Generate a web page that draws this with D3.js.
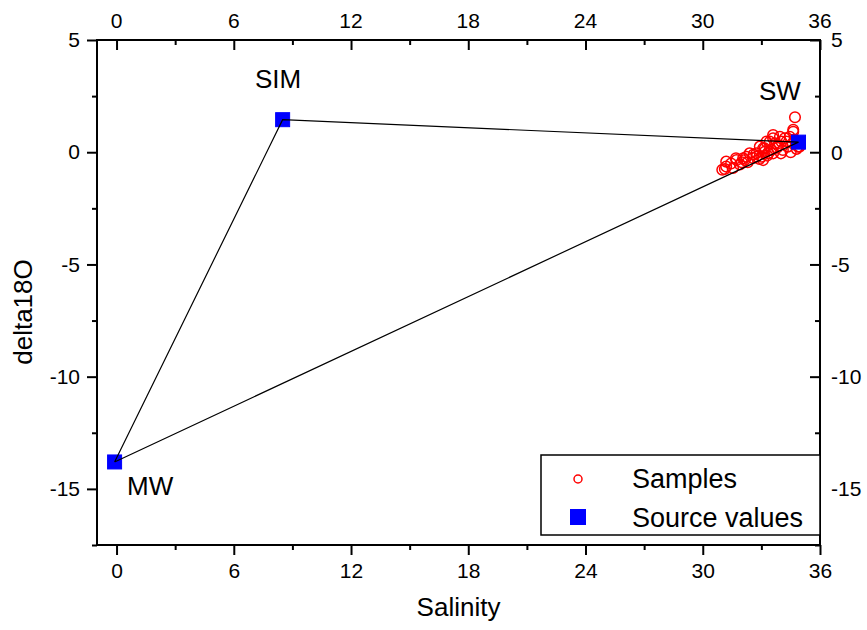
<!DOCTYPE html>
<html>
<head>
<meta charset="utf-8">
<title>delta18O vs Salinity</title>
<style>
  body { margin: 0; background: #fff; }
  svg text { font-family: "Liberation Sans", Arial, sans-serif; fill: #000; }
</style>
</head>
<body>
<svg width="867" height="630"></svg>
<script src="https://d3js.org/d3.v7.min.js"></script>
<script>

// end members (salinity, delta18O)
var sourceNames = ["MW", "SIM", "SW"];
var sourceSal   = [-0.1, 8.5, 34.9];
var sourceD18O  = [-13.8, 1.45, 0.45];

// samples
var sampleSal = [31.0, 31.13, 31.2, 31.2, 31.55, 31.7, 31.73, 31.9, 32.07, 32.15,
                 32.24, 32.3, 32.4, 32.57, 32.75, 32.75, 32.9, 32.92, 33.0, 33.09,
                 33.09, 33.17, 33.17, 33.26, 33.3, 33.43, 33.5, 33.52, 33.6, 33.6,
                 33.6, 33.7, 33.8, 33.95, 34.03, 34.1, 34.2, 34.28, 34.35, 34.45,
                 34.5, 34.6, 34.63, 34.63, 34.7, 34.72, 34.8, 34.88, 34.95, 33.35,
                 32.6, 34.0, 33.85, 31.45, 32.0];
var sampleD18O = [-0.78, -0.75, -0.42, -0.64, -0.7, -0.27, -0.35, -0.55, -0.27, -0.35,
                  -0.2, -0.45, -0.05, -0.26, -0.05, -0.2, -0.3, 0.25, -0.2, 0.17,
                  -0.35, 0.17, 0.02, 0.47, -0.15, 0.47, 0.1, 0.1, 0.77, 0.62,
                  -0.05, 0.4, 0.2, 0.69, 0.47, 0.1, 0.62, 0.47, 0.25, 0.69,
                  0.0, 0.4, 1.0, 0.91, 0.55, 1.56, 0.15, 0.25, 0.25, -0.05,
                  -0.1, -0.05, 0.3, -0.5, -0.45];

var xMajor = [0, 6, 12, 18, 24, 30, 36];
var xMinor = [3, 9, 15, 21, 27, 33];
var yMajor = [5, 0, -5, -10, -15];
var yMinor = [2.5, -2.5, -7.5, -12.5, -17.5];

var svg = d3.select("svg");
var L = 97, R = 820, T = 40, B = 545;

var x = d3.scaleLinear().domain([-1, 36]).range([L, R]);
var y = d3.scaleLinear().domain([-17.5, 5]).range([B, T]);

var fmt = function(d) { return String(d); };  // plain hyphen minus like the original

function ticks(axisFn, scale, vals, size, transform, labels, pad) {
  var g = svg.append("g").attr("transform", transform);
  g.call(axisFn(scale).tickValues(vals).tickSize(size).tickPadding(pad || 3)
      .tickFormat(labels ? fmt : ""))
    .call(function(s) { s.select(".domain").remove(); });
  g.selectAll(".tick line").attr("stroke", "#000").attr("stroke-width", 2);
  g.selectAll(".tick text").attr("font-size", 21).attr("fill", "#000")
    .attr("font-family", "Liberation Sans, Arial, sans-serif");
  return g;
}

// bottom / left: ticks outward with labels
ticks(d3.axisBottom, x, xMajor, 10, "translate(0," + B + ")", true, 8);
ticks(d3.axisBottom, x, xMinor, 5, "translate(0," + B + ")", false);
ticks(d3.axisLeft, y, yMajor, 10, "translate(" + L + ",0)", true, 7);
ticks(d3.axisLeft, y, yMinor, 5, "translate(" + L + ",0)", false);

// top / right: ticks inward
ticks(d3.axisBottom, x, xMajor, 10, "translate(0," + T + ")", false);
ticks(d3.axisBottom, x, xMinor, 5, "translate(0," + T + ")", false);
ticks(d3.axisLeft, y, yMajor, 10, "translate(" + R + ",0)", false);
ticks(d3.axisLeft, y, yMinor, 5, "translate(" + R + ",0)", false);

svg.append("g").selectAll("text").data(xMajor).enter().append("text")
  .attr("x", function(d) { return x(d); }).attr("y", T - 12)
  .attr("text-anchor", "middle").attr("font-size", 21)
  .text(fmt);
svg.append("g").selectAll("text").data(yMajor).enter().append("text")
  .attr("x", R + 11).attr("y", function(d) { return y(d); }).attr("dy", "0.35em")
  .attr("font-size", 21)
  .text(fmt);

// frame
svg.append("rect").attr("x", L).attr("y", T).attr("width", R - L).attr("height", B - T)
  .attr("fill", "none").attr("stroke", "#000").attr("stroke-width", 2);

var line = d3.line().x(function(d) { return x(d[0]); }).y(function(d) { return y(d[1]); });
var tri = [0, 1, 2, 0].map(function(i) { return [sourceSal[i], sourceD18O[i]]; });

// samples
svg.append("g").selectAll("circle").data(d3.range(sampleSal.length)).enter().append("circle")
  .attr("cx", function(i) { return x(sampleSal[i]); })
  .attr("cy", function(i) { return y(sampleD18O[i]); })
  .attr("r", 5.3).attr("fill", "none").attr("stroke", "#ff0000").attr("stroke-width", 1.5);

// sources
svg.append("g").selectAll("rect").data(d3.range(sourceSal.length)).enter().append("rect")
  .attr("x", function(i) { return x(sourceSal[i]) - 7; })
  .attr("y", function(i) { return y(sourceD18O[i]) - 7; })
  .attr("width", 14).attr("height", 14)
  .attr("fill", "#0000ff").attr("stroke", "#0000ff").attr("stroke-width", 1);

// mixing triangle over the markers
svg.append("path").attr("d", line(tri))
  .attr("fill", "none").attr("stroke", "#000").attr("stroke-width", 1.2);

// source labels
var labelPos = [[127, 495], [255, 88], [759, 100]];
svg.append("g").selectAll("text").data(sourceNames).enter().append("text")
  .attr("x", function(d, i) { return labelPos[i][0]; })
  .attr("y", function(d, i) { return labelPos[i][1]; })
  .attr("font-size", 26)
  .text(function(d) { return d; });

// axis titles
svg.append("text").attr("x", (L + R) / 2).attr("y", 616).attr("text-anchor", "middle")
  .attr("font-size", 26).text("Salinity");
svg.append("text").attr("transform", "translate(32,312) rotate(-90)").attr("text-anchor", "middle")
  .attr("font-size", 26).text("delta18O");

// legend
var lg = svg.append("g");
lg.append("rect").attr("x", 541).attr("y", 455).attr("width", R - 541).attr("height", 80)
  .attr("fill", "#fff").attr("stroke", "#000").attr("stroke-width", 1.5);
lg.append("circle").attr("cx", 578).attr("cy", 479).attr("r", 4)
  .attr("fill", "none").attr("stroke", "#ff0000").attr("stroke-width", 1.5);
lg.append("rect").attr("x", 570).attr("y", 509).attr("width", 16).attr("height", 16)
  .attr("fill", "#0000ff");
lg.append("text").attr("x", 632).attr("y", 488).attr("font-size", 27).text("Samples");
lg.append("text").attr("x", 632).attr("y", 527).attr("font-size", 27).text("Source values");

</script>
</body>
</html>
